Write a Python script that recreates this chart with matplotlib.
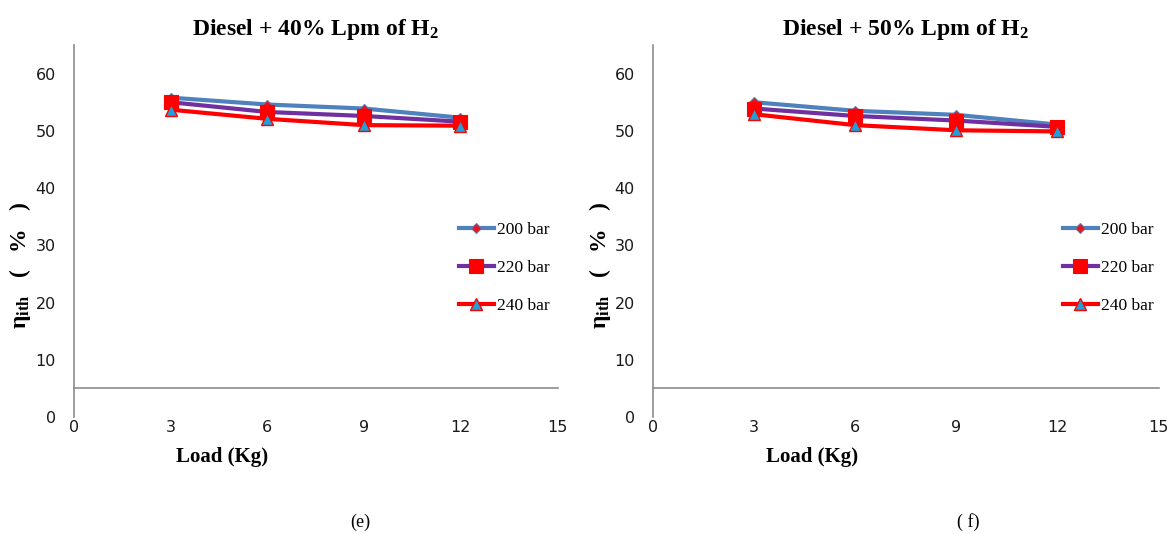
import matplotlib
matplotlib.use('Agg')
import matplotlib.pyplot as plt

plt.rcParams['mathtext.fontset'] = 'custom'
plt.rcParams['mathtext.rm'] = 'Liberation Serif:bold'
plt.rcParams['mathtext.it'] = 'Liberation Serif:bold'
plt.rcParams['mathtext.bf'] = 'Liberation Serif:bold'

# data
load = [3, 6, 9, 12]
labels = ['200 bar', '220 bar', '240 bar']

eff_40 = {
    '200 bar': [55.8, 54.6, 53.9, 52.3],
    '220 bar': [55.0, 53.3, 52.6, 51.6],
    '240 bar': [53.7, 52.1, 51.0, 50.9],
}
eff_50 = {
    '200 bar': [55.0, 53.5, 52.8, 51.1],
    '220 bar': [53.9, 52.6, 51.8, 50.7],
    '240 bar': [52.9, 51.0, 50.1, 49.9],
}

titles = [r'Diesel + 40% Lpm of H$_2$', r'Diesel + 50% Lpm of H$_2$']
captions = ['(e)', '( f)']
xticks = [0, 3, 6, 9, 12, 15]
yticks = [0, 10, 20, 30, 40, 50, 60]

styles = {
    '200 bar': dict(color='#4F81BD', marker='D', ms=5, mfc='#E8141B', mec='#4F81BD', mew=0.8),
    '220 bar': dict(color='#7030A0', marker='s', ms=9.5, mfc='#FF0000', mec='#FF0000', mew=0.8),
    '240 bar': dict(color='#FF0000', marker='^', ms=8, mfc='#1FA0D8', mec='#FF0000', mew=1.0),
}

W, H = 1174, 534
fig = plt.figure(figsize=(W / 100, H / 100), dpi=100)

# axes placement in pixels: (left, right, top, bottom)
boxes = [(74, 557, 45, 417), (653, 1158, 45, 417)]
legend_x = [452, 1056]
caption_x = [360, 968]
ylabel_x = [20, 600]
xlabel_x = [222, 812]
tick_font = ['Liberation Sans Narrow', 'DejaVu Sans']
serif = ['Liberation Serif', 'DejaVu Serif']

for i, data in enumerate([eff_40, eff_50]):
    l, r, t, b = boxes[i]
    ax = fig.add_axes([l / W, 1 - b / H, (r - l) / W, (b - t) / H])
    for name in labels:
        ax.plot(load, data[name], lw=3, label=name, **styles[name])
    ax.set_xlim(0, 15)
    ax.set_ylim(0, 65)
    ax.axhline(5, color='#8C8C8C', lw=1.2, xmin=0, xmax=1.002, clip_on=False)
    for s in ['top', 'right', 'bottom']:
        ax.spines[s].set_visible(False)
    ax.spines['left'].set_color('#8C8C8C')
    ax.spines['left'].set_linewidth(1.2)
    ax.set_xticks(xticks)
    ax.set_yticks(yticks)
    ax.tick_params(axis='both', length=0, labelsize=11.5)
    ax.tick_params(axis='y', pad=13)
    ax.tick_params(axis='x', pad=2)
    for lab in ax.get_xticklabels() + ax.get_yticklabels():
        lab.set_family(tick_font)
        lab.set_color('#1A1A1A')

    fig.text((l + r) / 2 / W, 1 - 29 / H, titles[i], ha='center', va='center',
             fontsize=17, fontweight='bold', family=serif)
    fig.text(xlabel_x[i] / W, 1 - 457 / H, 'Load (Kg)', ha='center', va='center',
             fontsize=15, fontweight='bold', family=serif)
    fig.text(ylabel_x[i] / W, 1 - 266 / H, r'η$_{ith}$   (   %   )', ha='center', va='center',
             rotation=90, fontsize=17, fontweight='bold', family=serif)
    fig.text(caption_x[i] / W, 1 - 522 / H, captions[i], ha='center', va='center',
             fontsize=13, family=serif)

    leg = ax.legend(loc='upper left',
                    bbox_to_anchor=((legend_x[i] - l) / (r - l), (b - 215) / (b - t)),
                    frameon=False, handlelength=2.0, handletextpad=0.2,
                    labelspacing=1.25, borderaxespad=0,
                    prop={'family': serif, 'size': 12.5})

fig.savefig('out.png', dpi=100)
